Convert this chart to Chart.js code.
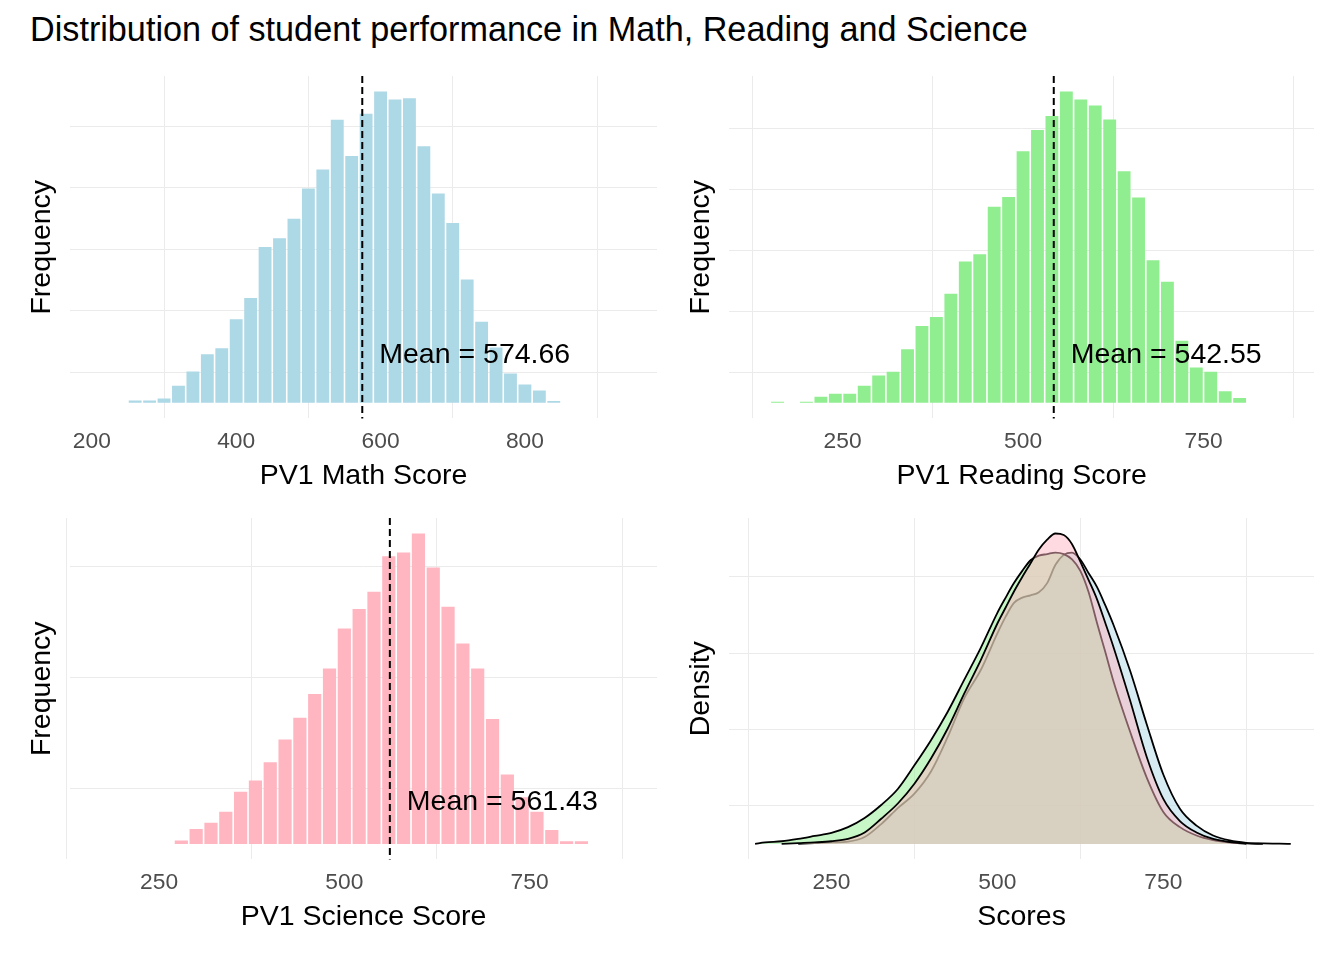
<!DOCTYPE html>
<html>
<head>
<meta charset="utf-8">
<title>Student performance</title>
<script src="https://cdn.jsdelivr.net/npm/chart.js@4.4.1/dist/chart.umd.min.js"></script>
<style>
  body { margin: 0; background: #fff; }
  #page { position: relative; width: 1344px; height: 960px; background: #fff;
          font-family: "Liberation Sans", Arial, sans-serif; }
  #title { position: absolute; left: 30px; top: 12px; font-size: 34.2px; line-height: 1;
           color: #000; white-space: nowrap; }
  .box { position: absolute; width: 672px; height: 440px; }
</style>
</head>
<body>
<div id="page">
  <div id="title">Distribution of student performance in Math, Reading and Science</div>
  <div class="box" style="left:0;top:60px"><canvas id="mathChart"></canvas></div>
  <div class="box" style="left:672px;top:60px"><canvas id="readingChart"></canvas></div>
  <div class="box" style="left:0;top:500px"><canvas id="scienceChart"></canvas></div>
  <div class="box" style="left:672px;top:500px"><canvas id="densityChart"></canvas></div>
</div>

<script>
// ================================
// DATA
// ================================
const mathBins = [260, 280, 300, 320, 340, 360, 380, 400, 420, 440, 460, 480, 500, 520, 540,
                  560, 580, 600, 620, 640, 660, 680, 700, 720, 740, 760, 780, 800, 820, 840];
const mathCounts = [4, 4, 7, 28, 51, 79, 89, 136, 171, 254, 268, 300, 349, 380, 461,
                    402, 471, 507, 494, 496, 418, 341, 293, 201, 132, 90, 48, 30, 20, 3];

const readingBins = [160, 180, 200, 220, 240, 260, 280, 300, 320, 340, 360, 380, 400, 420, 440, 460, 480,
                     500, 520, 540, 560, 580, 600, 620, 640, 660, 680, 700, 720, 740, 760, 780, 800];
const readingCounts = [2, 0, 2, 10, 15, 15, 28, 45, 51, 88, 126, 141, 179, 232, 244, 322, 338,
                       413, 448, 471, 511, 498, 488, 465, 380, 337, 234, 199, 102, 58, 51, 19, 8];

const scienceBins = [280, 300, 320, 340, 360, 380, 400, 420, 440, 460, 480, 500, 520, 540,
                     560, 580, 600, 620, 640, 660, 680, 700, 720, 740, 760, 780, 800, 820];
const scienceCounts = [6, 27, 38, 58, 94, 114, 147, 188, 227, 270, 316, 388, 423, 454,
                       518, 525, 559, 498, 427, 361, 316, 225, 125, 84, 58, 25, 5, 5];

const meanScores = { math: 574.66, reading: 542.55, science: 561.43 };

// density curves (null = outside that subject's range)
const densityX = [135, 150, 175, 200, 225, 250, 275, 300, 325, 350, 375, 400, 425, 450, 475, 500,
                  512.5, 525, 537.5, 550, 562.5, 575, 587.5, 600, 612.5, 625, 637.5, 650, 662.5, 675,
                  700, 725, 750, 775, 800, 825, 850, 875, 900, 925, 942];
const densityMath = [null, null, null, 0, 0.00001, 0.00002, 0.00003, 0.00009, 0.00026, 0.00047, 0.00066, 0.00095, 0.0014, 0.00191, 0.00228, 0.00276,
                     0.00298, 0.00316, 0.00323, 0.00326, 0.0033, 0.00342, 0.00366, 0.00379, 0.00382, 0.00373, 0.00355, 0.00337, 0.00313, 0.00287,
                     0.00227, 0.00157, 0.00091, 0.00046, 0.00024, 0.00011, 0.000045, 0.000015, 0.000006, 0.000003, 0];
const densityReading = [0, 0.00002, 0.000035, 0.000066, 0.000105, 0.000145, 0.00022, 0.00034, 0.00051, 0.00072, 0.00103, 0.00136, 0.00173, 0.00215, 0.00257, 0.00303,
                        0.00323, 0.00342, 0.00358, 0.00372, 0.00378, 0.0038, 0.00382, 0.0038, 0.00373, 0.00358, 0.0033, 0.0029, 0.00252, 0.00213,
                        0.00147, 0.00087, 0.00042, 0.00022, 0.00011, 0.00005, 0.00002, 0, null, null, null];
const densityScience = [null, null, 0, 0.00001, 0.00002, 0.000035, 0.000066, 0.00015, 0.00033, 0.00053, 0.00079, 0.00112, 0.00151, 0.00197, 0.00241, 0.00289,
                        0.0031, 0.00331, 0.0035, 0.00368, 0.00386, 0.00399, 0.00407, 0.00405, 0.00393, 0.0037, 0.00346, 0.00321, 0.0029, 0.00258,
                        0.00188, 0.00114, 0.00059, 0.0003, 0.00015, 0.000065, 0.000025, 0.000008, 0, null, null];

const FONT = '"Liberation Sans", Arial, sans-serif';
Chart.defaults.font.family = FONT;
Chart.defaults.animation = false;


// ================================
// MEAN LINE + LABEL
// ================================
const meanLine = {
  id: "meanLine",
  afterDatasetsDraw(chart, args, opts) {
    if (opts.value == null) return;
    const { ctx, chartArea, scales } = chart;
    const x = scales.x.getPixelForValue(opts.value);
    ctx.save();
    ctx.strokeStyle = "#000";
    ctx.lineWidth = 2;
    ctx.setLineDash([7, 4]);
    ctx.beginPath();
    ctx.moveTo(x, chartArea.top);
    ctx.lineTo(x, chartArea.bottom);
    ctx.stroke();
    ctx.setLineDash([]);
    ctx.font = "28.5px " + FONT;
    ctx.fillStyle = "#000";
    ctx.textAlign = "left";
    ctx.textBaseline = "middle";
    ctx.fillText("Mean = " + opts.value.toFixed(2), x + 17, scales.y.getPixelForValue(opts.labelY));
    ctx.restore();
  }
};


// ================================
// SHARED AXES
// ================================
function xAxis(min, max, labelVals, gridVals, title) {
  return {
    type: "linear", min, max, offset: false,
    afterBuildTicks: s => { s.ticks = labelVals.concat(gridVals).sort((a, b) => a - b).map(v => ({ value: v })); },
    grid: {
      offset: false, drawTicks: false, lineWidth: 1,
      color: c => (c.tick && labelVals.includes(c.tick.value)) ? "rgba(0,0,0,0)" : "#ebebeb"
    },
    border: { display: false },
    ticks: {
      autoSkip: false, maxRotation: 0, padding: 10, color: "#4d4d4d",
      font: { size: 22.8 },
      callback: v => labelVals.includes(v) ? String(v) : ""
    },
    title: { display: true, text: title, color: "#000", font: { size: 28.5 }, padding: { top: -7, bottom: 0 } }
  };
}

function yAxis(min, max, gridVals, title) {
  return {
    min, max,
    afterBuildTicks: s => { s.ticks = gridVals.map(v => ({ value: v })); },
    grid: { drawTicks: false, color: "#ebebeb", lineWidth: 1 },
    border: { display: false },
    ticks: { display: false },
    title: { display: true, text: title, color: "#000", font: { size: 28.5 }, padding: { top: 0, bottom: 11 } }
  };
}


// ================================
// HISTOGRAMS
// ================================
function buildHistogram(id, bins, counts, color, xRange, labelVals, gridVals, yGrid, title, mean, labelY, pad) {
  const top = Math.max(...counts);
  new Chart(document.getElementById(id), {
    type: "bar",
    data: {
      datasets: [{
        data: bins.map((b, i) => ({ x: b, y: counts[i] })),
        backgroundColor: color,
        borderWidth: 0,
        barPercentage: 0.89,
        categoryPercentage: 1
      }]
    },
    options: {
      responsive: true,
      maintainAspectRatio: false,
      layout: { padding: pad },
      plugins: { legend: { display: false }, tooltip: { enabled: false }, meanLine: { value: mean, labelY } },
      scales: {
        x: xAxis(xRange[0], xRange[1], labelVals, gridVals, title),
        y: yAxis(-0.05 * top, 1.05 * top, yGrid, "Frequency")
      }
    },
    plugins: [meanLine]
  });
}

buildHistogram("mathChart", mathBins, mathCounts, "#ADD8E6", [170, 983],
  [200, 400, 600, 800], [300, 500, 700, 900], [50, 150, 250, 350, 450],
  "PV1 Math Score", meanScores.math, 77, { left: 25, top: 16, right: 15, bottom: 7 });

buildHistogram("readingChart", readingBins, readingCounts, "#90EE90", [93, 903],
  [250, 500, 750], [125, 375, 625, 875], [50, 150, 250, 350, 450],
  "PV1 Reading Score", meanScores.reading, 78, { left: 12, top: 16, right: 30, bottom: 7 });

buildHistogram("scienceChart", scienceBins, scienceCounts, "#FFB6C1", [130, 922],
  [250, 500, 750], [125, 375, 625, 875], [100, 300, 500],
  "PV1 Science Score", meanScores.science, 76, { left: 25, top: 18, right: 15, bottom: 6 });


// ================================
// DENSITY OVERLAY
// ================================
function curve(values) {
  return densityX.map((x, i) => ({ x, y: values[i] })).filter(p => p.y !== null);
}

const densityTop = Math.max(...densityMath, ...densityReading, ...densityScience);

// first dataset is drawn last, so Science sits on top as in the original
new Chart(document.getElementById("densityChart"), {
  type: "line",
  data: {
    datasets: [
      { label: "Science", data: curve(densityScience), backgroundColor: "rgba(255,182,193,0.5)" },
      { label: "Reading", data: curve(densityReading), backgroundColor: "rgba(144,238,144,0.5)" },
      { label: "Math", data: curve(densityMath), backgroundColor: "rgba(173,216,230,0.5)" }
    ].map(d => Object.assign(d, {
      fill: "origin", borderColor: "#000", borderWidth: 1.8,
      pointRadius: 0, cubicInterpolationMode: "monotone"
    }))
  },
  options: {
    responsive: true,
    maintainAspectRatio: false,
    layout: { padding: { left: 12, top: 18, right: 30, bottom: 6 } },
    plugins: { legend: { display: false }, tooltip: { enabled: false } },
    scales: {
      x: xAxis(96, 977, [250, 500, 750], [125, 375, 625, 875], "Scores"),
      y: yAxis(-0.05 * densityTop, 1.05 * densityTop, [0.0005, 0.0015, 0.0025, 0.0035], "Density")
    }
  }
});
</script>
</body>
</html>
